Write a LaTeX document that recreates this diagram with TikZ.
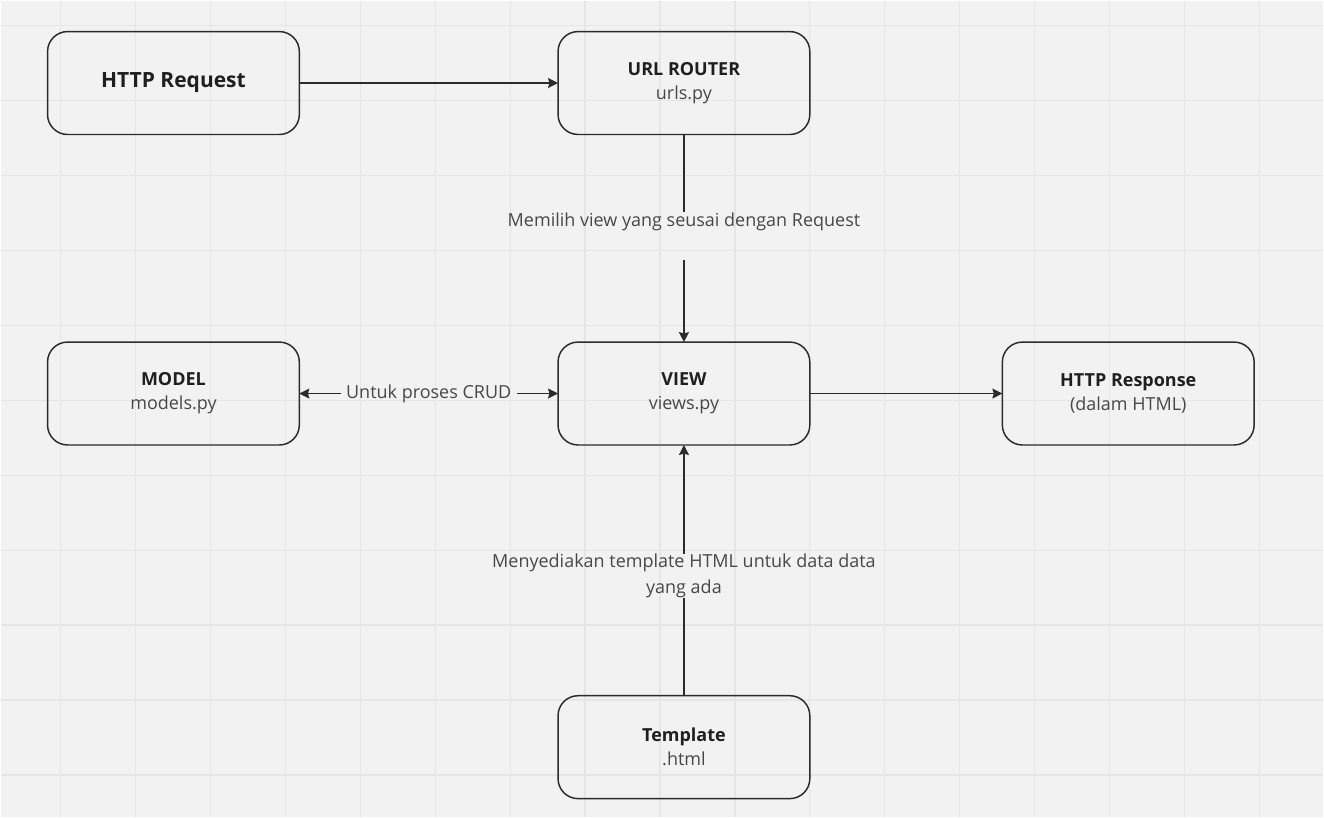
\documentclass[tikz,border=0pt]{standalone}
\usepackage{fontspec}
\setmainfont{Open Sans}
\usepackage{tikz}
\usetikzlibrary{arrows.meta, positioning}
\definecolor{BoardGray}{HTML}{F2F2F2}
\definecolor{GridGray}{HTML}{E6E6E6}
\definecolor{InkDark}{HTML}{2B2B2B}
\definecolor{TitleBlack}{HTML}{1F1F1F}
\definecolor{LabelGray}{HTML}{474747}
\tikzset{
  % Box styles
  flowbox/.style={rectangle, rounded corners=15pt, draw=InkDark, line width=1.1pt, outer sep=0pt, minimum width=189pt, minimum height=77.25pt, align=center, font=\fontsize{13.5}{18}\selectfont, text=TitleBlack},
  % Label styles
  linklabel/.style={inner xsep=4pt, inner ysep=0pt, align=center, font=\fontsize{13.5}{19.5}\selectfont, text=LabelGray},
  % Arrow styles
  arrow/.style={-{Stealth[length=7.5pt, width=7.5pt, inset=1pt]}, line width=1pt, InkDark},
  plainline/.style={line width=1pt, InkDark},
  gridline/.style={GridGray, line width=0.9pt}
}

\begin{document}
\begin{tikzpicture}[x=0.75pt, y=-0.75pt]
  % Board with grid
  \fill[BoardGray] (0,0) rectangle (1324,817);
  \foreach \gx in {60,135,...,1260} \draw[gridline] (\gx,0) -- (\gx,817);
  \foreach \gy in {25,100,...,775} \draw[gridline] (0,\gy) -- (1324,\gy);
  \useasboundingbox (0,0) rectangle (1324,817);

  % Request and router
  \node[flowbox, font=\fontsize{15.75}{18}\selectfont\bfseries] (request) at (173,82.5) {HTTP Request};
  \node[flowbox, right=6.826cm of request] (router) {\textbf{URL ROUTER}\\{\color{LabelGray}urls.py}};

  % View row
  \node[flowbox, below=5.477cm of router] (view) {\textbf{VIEW}\\{\color{LabelGray}views.py}};
  \node[flowbox, left=6.826cm of view] (model) {\textbf{MODEL}\\{\color{LabelGray}models.py}};
  \node[flowbox, right=5.08cm of view] (response) {\textbf{HTTP Response}\\{\color{LabelGray}(dalam HTML)}};

  % Template
  \node[flowbox, below=6.615cm of view] (template) {\textbf{Template}\\{\color{LabelGray}.html}};

  % Labels on the links
  \path (router.south) -- (view.north) node[linklabel, pos=0.42] (pick) {Memilih view yang seusai dengan Request} coordinate[pos=0.604] (pickgap);
  \path (model.east) -- (view.west) node[linklabel, pos=0.5] (crud) {Untuk proses CRUD};
  \path (view.south) -- (template.north) node[linklabel, pos=0.522] (serve) {Menyediakan template HTML untuk data data\\yang ada};

  % Arrows
  \draw[arrow] (request) -- (router);
  \draw[plainline] (router) -- (pick);
  \draw[arrow] (pickgap) -- (view);
  \draw[arrow] (crud) -- (model);
  \draw[arrow] (crud) -- (view);
  \draw[arrow] (view) -- (response);
  \draw[plainline] (template) -- (serve);
  \draw[arrow] (serve) -- (view);
\end{tikzpicture}
\end{document}
